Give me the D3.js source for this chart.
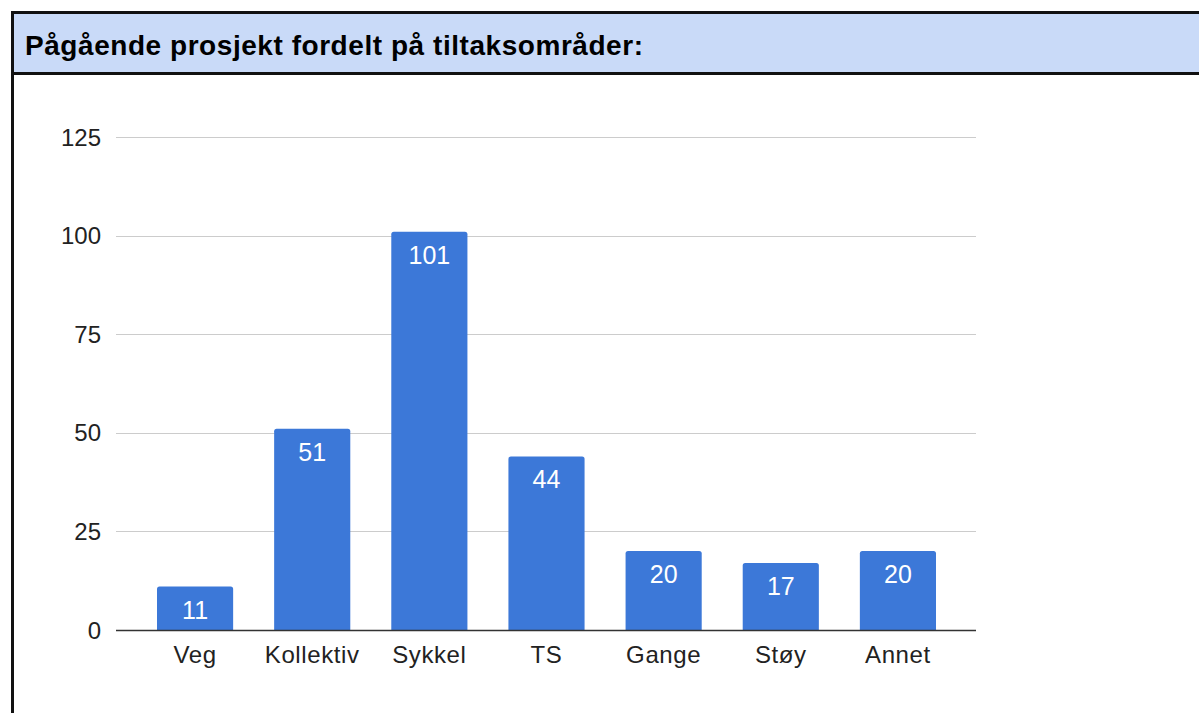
<!DOCTYPE html>
<html><head><meta charset="utf-8">
<script src="https://cdn.jsdelivr.net/npm/d3@7"></script>
<style>body{margin:0;background:#fff;}svg{display:block;font-family:Arial,"Liberation Sans",sans-serif;}</style>
</head><body>
<script>
const title = "Pågående prosjekt fordelt på tiltaksområder:";
const categories = ["Veg","Kollektiv","Sykkel","TS","Gange","Støy","Annet"];
const values = [11,51,101,44,20,17,20];
const yTicks = [0,25,50,75,100,125];

const W = 1199, H = 713;
const svg = d3.select("body").append("svg").attr("width",W).attr("height",H);

// frame
svg.append("rect").attr("x",14).attr("y",14).attr("width",W).attr("height",59).attr("fill","#c9daf8");
svg.append("rect").attr("x",12.5).attr("y",12.5).attr("width",W+10).attr("height",H+10)
  .attr("fill","none").attr("stroke","#111").attr("stroke-width",3);
svg.append("line").attr("x1",12).attr("x2",W).attr("y1",73.5).attr("y2",73.5).attr("stroke","#111").attr("stroke-width",3);
svg.append("text").attr("x",25).attr("y",55).attr("font-size",28).attr("font-weight","bold").attr("fill","#000")
  .attr("textLength",618).attr("lengthAdjust","spacing").text(title);

const y = d3.scaleLinear().domain([0,125]).range([630,137]);
const x = d3.scaleBand().domain(categories).range([136.5,956.5]).paddingInner(0.35).paddingOuter(0.175);

const gx0 = 116, gx1 = 976;
const grid = svg.append("g");
grid.selectAll("line").data(yTicks.filter(d=>d>0)).join("line")
  .attr("x1",gx0).attr("x2",gx1).attr("y1",d=>Math.round(y(d))+0.5).attr("y2",d=>Math.round(y(d))+0.5)
  .attr("stroke","#cccccc").attr("stroke-width",1);

svg.append("g").selectAll("text").data(yTicks).join("text")
  .attr("x",101).attr("y",d=>y(d)+8.5).attr("text-anchor","end").attr("font-size",24).attr("fill","#222").text(d=>d);

svg.append("g").selectAll("path").data(values).join("path")
  .attr("fill","#3c78d8")
  .attr("d",(d,i)=>{
    const x0 = x(categories[i]), w = x.bandwidth(), y0 = y(d), y1 = y(0), r = 2.5;
    return `M${x0},${y1}V${y0+r}Q${x0},${y0} ${x0+r},${y0}H${x0+w-r}Q${x0+w},${y0} ${x0+w},${y0+r}V${y1}Z`;
  });

svg.append("g").selectAll("text").data(values).join("text")
  .attr("x",(d,i)=>x(categories[i])+x.bandwidth()/2).attr("y",d=>y(d)+32)
  .attr("text-anchor","middle").attr("font-size",25).attr("fill","#fff").text(d=>d);

svg.append("line").attr("x1",gx0).attr("x2",gx1).attr("y1",630.5).attr("y2",630.5).attr("stroke","#333").attr("stroke-width",1.3);

svg.append("g").selectAll("text").data(categories).join("text")
  .attr("x",d=>x(d)+x.bandwidth()/2).attr("y",663).attr("text-anchor","middle").attr("font-size",24)
  .attr("letter-spacing",0.6).attr("fill","#222").text(d=>d);
</script>
</body></html>
